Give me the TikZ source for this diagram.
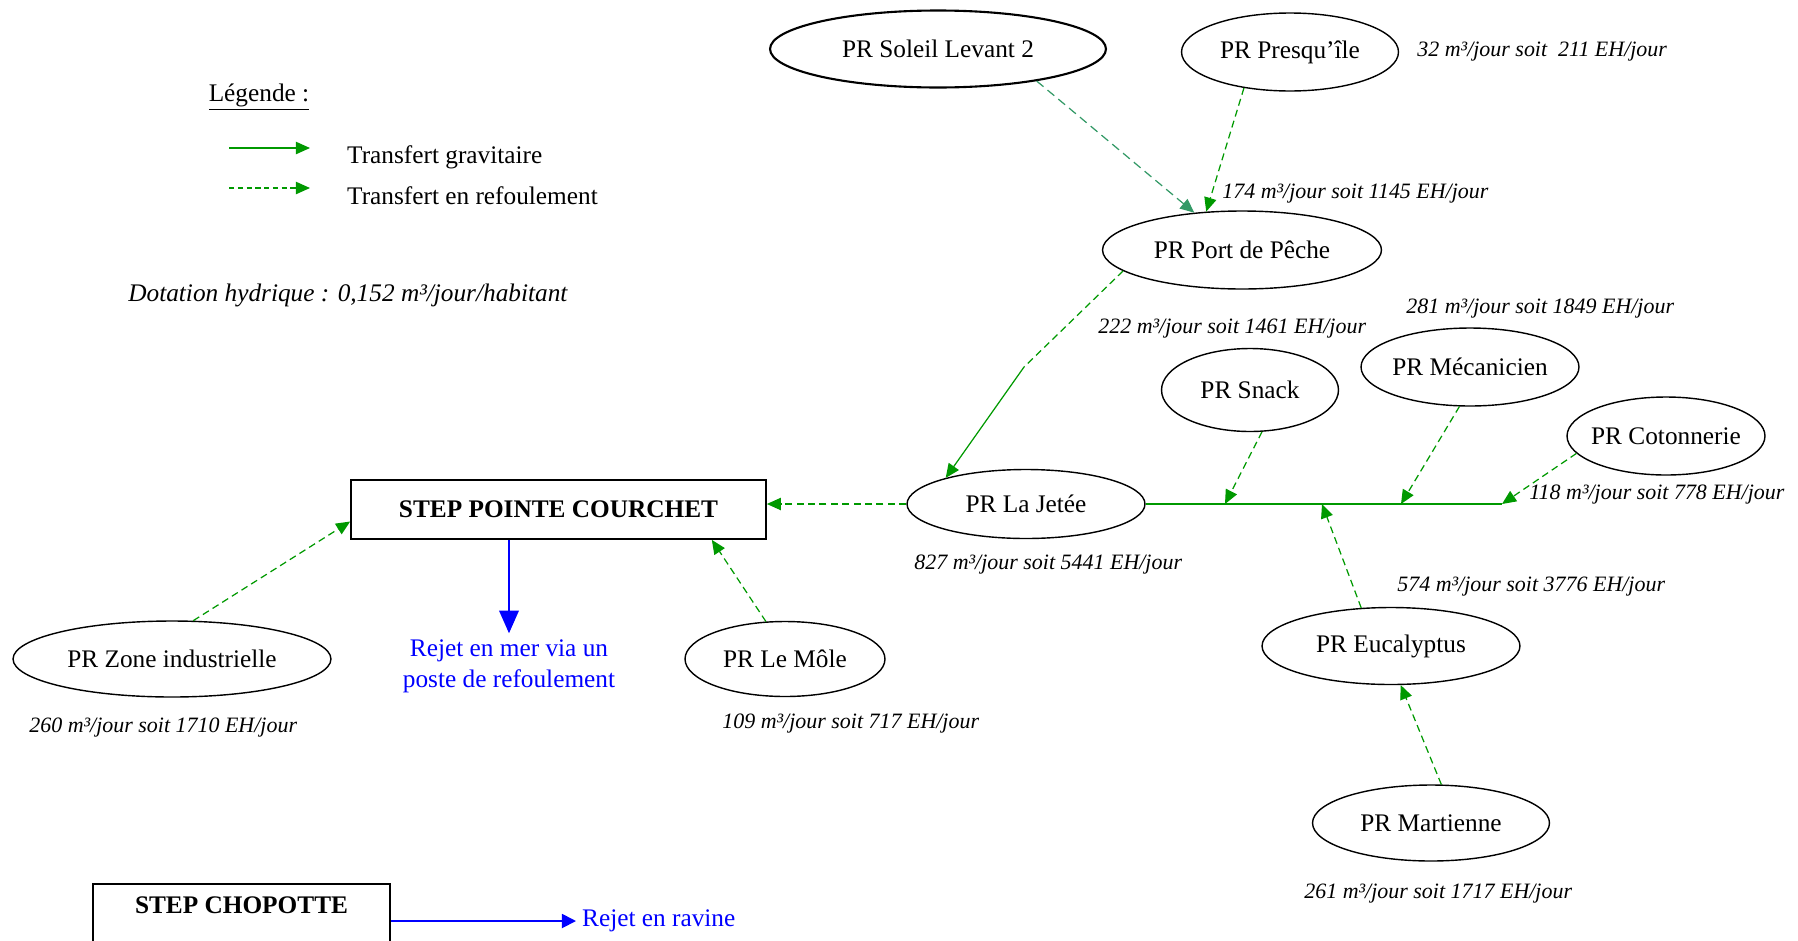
\documentclass[tikz,border=0pt]{standalone}
\usepackage{fontspec}
\setmainfont{Liberation Serif}
\usetikzlibrary{arrows.meta,calc,shapes.geometric}
\definecolor{pipegreen}{RGB}{0,153,0}
\definecolor{pumpteal}{RGB}{51,153,102}
\definecolor{outblue}{RGB}{0,0,255}
\newcommand{\mainsize}{\fontsize{14.4}{17.5}\selectfont}
\newcommand{\flowsize}{\fontsize{12.5}{15}\selectfont\itshape}
\tikzset{%
	station/.style 2 args = {draw, ellipse, line width=0.8pt, inner sep=0pt, inner xsep=-8pt, minimum width=#1, minimum height=#2}, % PR
	plant/.style    = {draw, rectangle, line width=1pt, font=\mainsize\bfseries}, % STEP
	flow/.style     = {anchor=west, inner sep=0pt, font=\flowsize}, % debit
	pipe/.style     = {draw=pipegreen, line width=0.7pt},
	grav/.style     = {pipe, ->}, % gravitaire
	refoul/.style   = {grav, dash pattern=on 4pt off 2.5pt}, % refoulement
	rejet/.style    = {draw=outblue, line width=1.6pt, -{Triangle[length=13pt,width=11pt]}},
}
\begin{document}
\begin{tikzpicture}[x=0.02cm,y=-0.02cm,font=\mainsize,>={Triangle[length=8pt,width=7pt]}]
	\useasboundingbox (0,0) rectangle (1798,940);
	\clip (0,0) rectangle (1798,940);
	% legende
	\node (leg) at (259,97) {\underline{Légende :}};
	\coordinate (lga) at (229,148);
	\coordinate (lgb) at (310,148);
	\coordinate (lgc) at (229,188);
	\coordinate (lgd) at (310,188);
	\node [anchor=west] (tgrav) at (341,157) {Transfert gravitaire};
	\node [anchor=west] (tref) at (341,196) {Transfert en refoulement};
	\node [anchor=west, inner sep=0pt, font=\mainsize\itshape] (dot) at (128,295) {Dotation hydrique : 0,152 m³/jour/habitant};
	\draw[grav] (lga) -- (lgb);
	\draw[refoul, dash pattern=on 3pt off 2pt] (lgc) -- (lgd);

	% postes
	\node [station={6.72cm}{1.54cm}, line width=1.2pt] (soleil) at (938,49) {PR Soleil Levant 2};
	\node [station={4.34cm}{1.56cm}] (presq) at (1290,52) {PR Presqu’île};
	\node [station={5.58cm}{1.56cm}] (peche) at (1242,250) {PR Port de Pêche};
	\node [station={3.54cm}{1.66cm}] (snack) at (1250,390) {PR Snack};
	\node [station={4.36cm}{1.56cm}] (mec) at (1470,367) {PR Mécanicien};
	\node [station={3.96cm}{1.56cm}] (coton) at (1666,436) {PR Cotonnerie};
	\node [station={4.76cm}{1.38cm}] (jetee) at (1026,504) {PR La Jetée};
	\node [station={5.16cm}{1.54cm}] (euca) at (1391,646) {PR Eucalyptus};
	\node [station={4.74cm}{1.52cm}] (mart) at (1431,823) {PR Martienne};
	\node [station={6.36cm}{1.52cm}] (zone) at (172,659) {PR Zone industrielle};
	\node [station={4.00cm}{1.50cm}] (mole) at (785,659) {PR Le Môle};

	% stations
	\node [plant, minimum width=8.3cm, minimum height=1.18cm] (stepc) at (558.5,509.5) {STEP POINTE COURCHET};
	\node [plant, anchor=north, minimum width=5.94cm, text height=0.47cm, text depth=1cm] (chop) at (241.5,883) {STEP CHOPOTTE};
	\node [text=outblue, align=center] (rejetmer) at (509,666) {Rejet en mer via un\\poste de refoulement};
	\node [text=outblue, anchor=west] (ravine) at (576,921) {Rejet en ravine};

	% debits
	\node [flow] (qpresq) at (1417,52) {32 m³/jour soit \ 211 EH/jour};
	\node [flow] (qpeche) at (1222,194) {174 m³/jour soit 1145 EH/jour};
	\node [flow] (qpeche2) at (1098,329) {222 m³/jour soit 1461 EH/jour};
	\node [flow] (qmec) at (1406,309) {281 m³/jour soit 1849 EH/jour};
	\node [flow] (qcoton) at (1529,495) {118 m³/jour soit 778 EH/jour};
	\node [flow] (qjetee) at (914,565) {827 m³/jour soit 5441 EH/jour};
	\node [flow] (qeuca) at (1397,587) {574 m³/jour soit 3776 EH/jour};
	\node [flow] (qmart) at (1304,894) {261 m³/jour soit 1717 EH/jour};
	\node [flow] (qzone) at (29,728) {260 m³/jour soit 1710 EH/jour};
	\node [flow] (qmole) at (722,724) {109 m³/jour soit 717 EH/jour};

	% collecteur
	\coordinate (kink) at (1024,367);
	\coordinate (bsnack) at (1225,504);
	\coordinate (beuca) at (1322,504);
	\coordinate (bmec) at (1401,504);
	\coordinate (bcoton) at (1502,504);
	\draw[pipe, line width=1.1pt] (jetee.east) -- (bcoton);

	\draw[refoul, draw=pumpteal, dash pattern=on 5pt off 3pt] (soleil.-18) -- (peche.142);
	\draw[refoul] (presq.-142) -- (peche.133);
	\draw[pipe, dash pattern=on 4pt off 2.5pt] (peche.-170) -- (kink);
	\draw[grav] (kink) -- (jetee.162);
	\draw[refoul] (snack.-74) -- (bsnack);
	\draw[refoul] (mec.-105) -- (bmec);
	\draw[refoul] (coton.-169) -- (bcoton);
	\draw[refoul] (euca.128) -- (beuca);
	\draw[refoul] (mart.75) -- (euca.-76);
	\draw[refoul] (jetee.west) -- (jetee.west -| stepc.east);
	\draw[refoul] (zone.61) -- ($(stepc.west)+(0,12)$);
	\draw[refoul] (mole.117) -- ($(stepc.south east)+(-55,0)$);
	\draw[rejet] (rejetmer.north |- stepc.south) -- (rejetmer.north);
	\draw[draw=outblue, line width=1pt, -{Triangle[length=8pt,width=8pt]}] (ravine.west -| chop.east) -- (ravine.west);
\end{tikzpicture}
\end{document}
